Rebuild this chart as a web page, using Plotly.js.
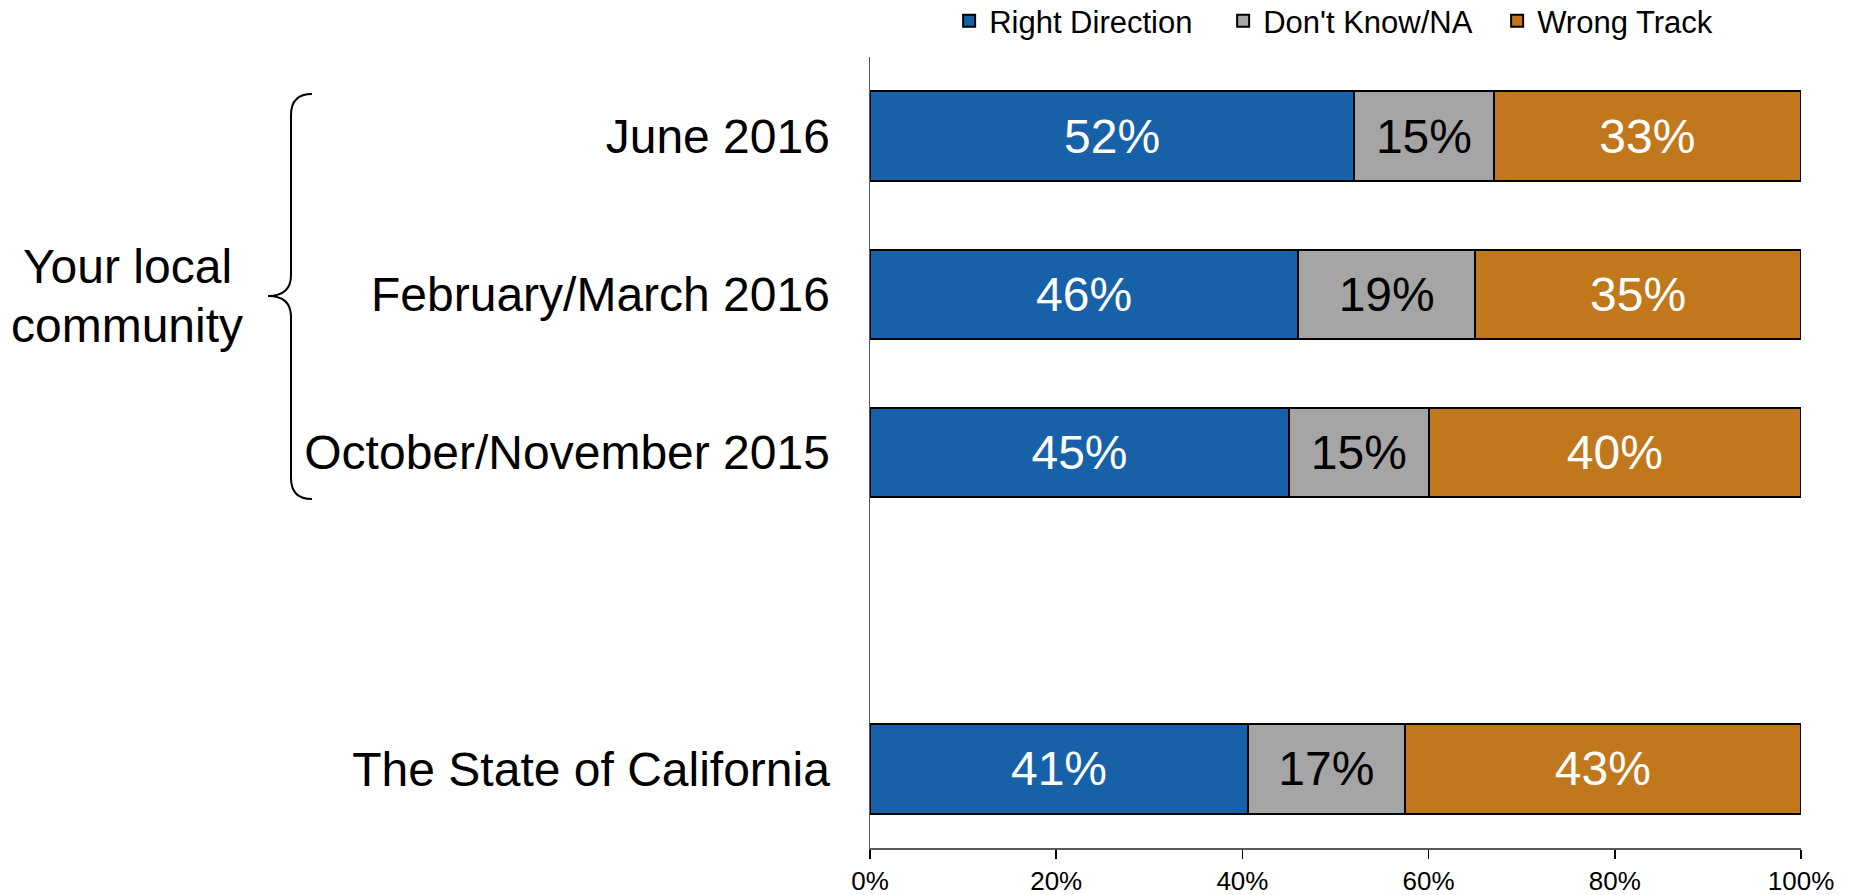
<!DOCTYPE html>
<html>
<head>
<meta charset="utf-8">
<script src="https://cdn.plot.ly/plotly-3.0.1.min.js"></script>
<style>html,body{margin:0;padding:0;background:#fff;}#chart{width:1849px;height:895px;}</style>
</head>
<body>
<div id="chart"></div>
<script>
// Data
const categories = ["June 2016", "February/March 2016", "October/November 2015", " ", "The State of California"];
const rightDirection = [52, 46, 45, null, 41];
const dontKnow = [15, 19, 15, null, 17];
const wrongTrack = [33, 35, 40, null, 43];
const seriesNames = ["Right Direction", "Don't Know/NA", "Wrong Track"];
const xTickVals = [0, 20, 40, 60, 80, 100];
const xTickText = ["0%", "20%", "40%", "60%", "80%", "100%"];
const groupLabelLines = ["Your local", "community"];

const FONT = "Liberation Sans, Arial, sans-serif";
const colors = ["#1761a9", "#a5a5a5", "#c1781c"];
const textColors = ["#ffffff", "#000000", "#ffffff"];
const seriesValues = [rightDirection, dontKnow, wrongTrack];

const traces = seriesValues.map((vals, i) => ({
  type: "bar",
  orientation: "h",
  name: seriesNames[i],
  y: categories,
  x: vals,
  text: vals.map(v => v === null ? "" : v + "%"),
  textposition: "inside",
  insidetextanchor: "middle",
  constraintext: "none",
  textfont: {family: FONT, size: 48, color: textColors[i]},
  marker: {color: colors[i], line: {color: "#000000", width: 2}},
  hoverinfo: "skip"
}));

const layout = {
  width: 1849,
  height: 895,
  margin: {l: 870, r: 48, t: 57, b: 47, autoexpand: false},
  barmode: "stack",
  barnorm: "percent",
  bargap: 0.435,
  paper_bgcolor: "#ffffff",
  plot_bgcolor: "#ffffff",
  font: {family: FONT, color: "#000000"},
  showlegend: true,
  legend: {
    orientation: "h",
    x: 0.085, xanchor: "left",
    y: 1.0796, yanchor: "top",
    font: {family: FONT, size: 31, color: "#000000"},
    entrywidth: 229,
    entrywidthmode: "pixels",
    itemwidth: 30,
    traceorder: "normal",
    bgcolor: "rgba(0,0,0,0)"
  },
  xaxis: {
    range: [0, 100],
    tickvals: xTickVals,
    ticktext: xTickText,
    ticks: "outside",
    ticklen: 9,
    tickwidth: 1.5,
    tickcolor: "#000000",
    showline: true,
    linecolor: "#595959",
    linewidth: 1.5,
    showgrid: false,
    zeroline: false,
    tickfont: {family: FONT, size: 26, color: "#000000"},
    fixedrange: true
  },
  yaxis: {
    type: "category",
    categoryorder: "array",
    categoryarray: categories,
    autorange: false,
    range: [categories.length - 0.5, -0.5],
    showline: true,
    linecolor: "#595959",
    linewidth: 1.5,
    showgrid: false,
    zeroline: false,
    ticks: "",
    ticklabelstandoff: 29,
    tickfont: {family: FONT, size: 48, color: "#000000"},
    fixedrange: true
  },
  shapes: [{
    type: "path",
    xref: "paper", yref: "paper",
    path: "M -0.5994,0.9532 Q -0.6219,0.9532 -0.6219,0.9267 L -0.6219,0.7244 Q -0.6219,0.6979 -0.6466,0.6979 Q -0.6219,0.6979 -0.6219,0.6713 L -0.6219,0.4678 Q -0.6219,0.4412 -0.5994,0.4412",
    line: {color: "#000000", width: 2}
  }],
  annotations: groupLabelLines.map((t, i) => ({
    text: t,
    xref: "paper", yref: "paper",
    x: -0.798, y: [0.7346, 0.660][i],
    xanchor: "center", yanchor: "middle",
    showarrow: false,
    font: {family: FONT, size: 48, color: "#000000"}
  }))
};

Plotly.newPlot("chart", traces, layout, {displayModeBar: false, staticPlot: true});
</script>
</body>
</html>
